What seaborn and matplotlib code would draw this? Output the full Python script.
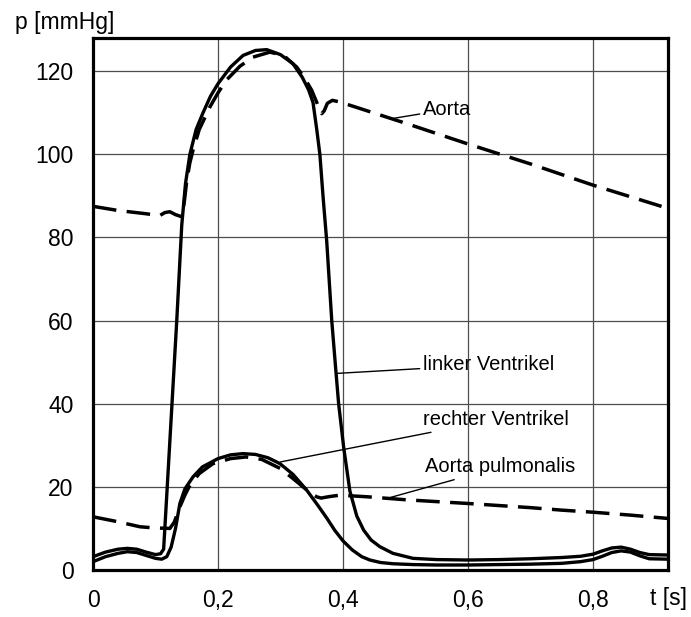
import pandas as pd
import seaborn as sns
import matplotlib
matplotlib.use("Agg")
import matplotlib.pyplot as plt
from matplotlib.ticker import FixedLocator

# Pressure curves (t in s, p in mmHg)
t_lv = [0, 0.02, 0.04, 0.055, 0.07, 0.085, 0.1, 0.108, 0.113, 0.118, 0.126, 0.134,
        0.142, 0.148, 0.155, 0.165, 0.176, 0.188, 0.2, 0.22, 0.24, 0.26, 0.278, 0.3,
        0.32, 0.335, 0.345, 0.352, 0.358, 0.363, 0.368, 0.374, 0.382, 0.388, 0.393,
        0.401, 0.411, 0.422, 0.433, 0.445, 0.459, 0.48, 0.512, 0.55, 0.6, 0.65, 0.7,
        0.75, 0.78, 0.8, 0.815, 0.83, 0.845, 0.86, 0.875, 0.89, 0.92]
p_lv = [3.2, 4.3, 5.0, 5.2, 5.0, 4.3, 3.7, 3.9, 5.0, 18, 39, 60,
        83, 93, 100, 106, 110, 114, 117, 121, 123.8, 125, 125.2, 124,
        121.8, 118.5, 115.5, 112.5, 106, 100, 90, 79, 60, 49, 40,
        29.6, 19, 13, 9.6, 7.2, 5.6, 4.0, 2.8, 2.5, 2.4, 2.5, 2.7,
        3.0, 3.3, 3.8, 4.6, 5.3, 5.5, 5.0, 4.2, 3.7, 3.6]

t_rv = [0, 0.02, 0.04, 0.055, 0.07, 0.085, 0.1, 0.11, 0.118, 0.125, 0.132, 0.139,
        0.147, 0.16, 0.175, 0.2, 0.22, 0.24, 0.26, 0.28, 0.299, 0.32, 0.342, 0.36,
        0.374, 0.387, 0.4, 0.415, 0.43, 0.443, 0.46, 0.48, 0.512, 0.55, 0.6, 0.65,
        0.7, 0.75, 0.78, 0.8, 0.815, 0.83, 0.845, 0.86, 0.875, 0.89, 0.92]
p_rv = [2.0, 3.2, 4.0, 4.4, 4.2, 3.5, 2.8, 2.6, 3.2, 5.5, 10, 16,
        19.5, 22.4, 24.8, 26.8, 27.7, 28, 27.8, 27, 25.6, 23, 19.2, 15.5,
        12.5, 9.5, 7.0, 4.8, 3.2, 2.4, 1.8, 1.5, 1.3, 1.2, 1.2, 1.3,
        1.4, 1.6, 2.0, 2.5, 3.3, 4.2, 4.6, 4.3, 3.4, 2.7, 2.6]

t_ao = [0, 0.04, 0.08, 0.107, 0.115, 0.123, 0.132, 0.142, 0.146, 0.15, 0.155, 0.16,
        0.17, 0.187, 0.2, 0.213, 0.235, 0.256, 0.283, 0.305, 0.326, 0.34, 0.35,
        0.358, 0.363, 0.366, 0.37, 0.375, 0.383, 0.395, 0.5, 0.6, 0.7, 0.8, 0.92]
p_ao = [87.5, 86.5, 85.8, 85.3, 86.0, 86.2, 85.5, 85.0, 88.5, 93.7, 98, 101,
        106, 111.4, 114.8, 117.8, 121.2, 123.4, 124.6, 123.8, 121, 118, 115.4,
        112.5, 110.6, 109.8, 110.5, 112.3, 113, 112.6, 107.5, 102.5, 97.7, 92.6, 87]

t_pa = [0, 0.04, 0.075, 0.1, 0.123, 0.13, 0.139, 0.147, 0.155, 0.17, 0.192, 0.22,
        0.245, 0.27, 0.3, 0.32, 0.336, 0.35, 0.358, 0.365, 0.372, 0.38, 0.395,
        0.44, 0.5, 0.6, 0.7, 0.75, 0.8, 0.86, 0.92]
p_pa = [12.8, 11.6, 10.4, 10.1, 10.0, 11.5, 15.2, 18, 20.4, 23.2, 25.6, 26.8,
        27.2, 26.6, 24.4, 22.0, 20.0, 18.3, 17.6, 17.3, 17.5, 17.7, 18.0,
        17.6, 16.9, 16.0, 15.0, 14.4, 13.9, 13.2, 12.4]

x_ticks = [0, 0.2, 0.4, 0.6, 0.8]
x_labels = ["0", "0,2", "0,4", "0,6", "0,8"]
y_ticks = [0, 20, 40, 60, 80, 100, 120]

sns.set_style("white")
plt.rcParams['font.family'] = ['Liberation Sans', 'DejaVu Sans']
plt.rcParams['text.color'] = 'black'
plt.rcParams['xtick.color'] = 'black'
plt.rcParams['ytick.color'] = 'black'

fig = plt.figure(figsize=(6.91, 6.17), dpi=100)
ax = fig.add_axes([0.1346, 0.0762, 0.8321, 0.8622])

dash = (0, (6.8, 3.0))
sns.lineplot(x=t_lv, y=p_lv, ax=ax, color="black", lw=2.4)
sns.lineplot(x=t_rv, y=p_rv, ax=ax, color="black", lw=2.4)
sns.lineplot(x=t_ao, y=p_ao, ax=ax, color="black", lw=2.5, linestyle=dash)
sns.lineplot(x=t_pa, y=p_pa, ax=ax, color="black", lw=2.5, linestyle=dash)

ax.set_xlim(0, 0.92)
ax.set_ylim(0, 128)
ax.xaxis.set_major_locator(FixedLocator(x_ticks))
ax.set_xticklabels(x_labels)
ax.xaxis.set_minor_locator(FixedLocator([0.1, 0.3, 0.5, 0.7, 0.9]))
ax.yaxis.set_major_locator(FixedLocator(y_ticks))
ax.yaxis.set_minor_locator(FixedLocator([10, 30, 50, 70, 90, 110]))
ax.tick_params(axis="both", which="both", direction="out", color="black",
               labelcolor="black", labelsize=16.5, width=1)
ax.tick_params(axis="y", which="major", length=10, pad=4)
ax.tick_params(axis="y", which="minor", length=5.5)
ax.tick_params(axis="x", which="major", length=6, pad=8)
ax.tick_params(axis="x", which="minor", length=5)
ax.grid(True, which="major", color="0.3", lw=0.9)
ax.set_axisbelow(True)
for s in ax.spines.values():
    s.set_visible(True)
    s.set_color("black")
    s.set_linewidth(2.3)
ax.set_xlabel("")
ax.set_ylabel("")

fig.text(15 / 691, 1 - 22 / 617, "p [mmHg]", fontsize=16.5, ha="left", va="center",
         color="black")
fig.text(687 / 691, 1 - 598 / 617, "t [s]", fontsize=16.5, ha="right", va="center",
         color="black")

arrow = dict(arrowstyle="-", color="black", lw=1, shrinkA=0, shrinkB=0)
ax.annotate("Aorta", xy=(0.478, 108.6), xytext=(0.528, 110.8), fontsize=14.5,
            ha="left", va="center", color="black", arrowprops=arrow)
ax.annotate("linker Ventrikel", xy=(0.39, 47.3), xytext=(0.528, 49.4), fontsize=14.5,
            ha="left", va="center", color="black", arrowprops=arrow)
ax.annotate("rechter Ventrikel", xy=(0.3, 26), xytext=(0.528, 36.2), fontsize=14.5,
            ha="left", va="center", color="black", arrowprops=arrow)
ax.annotate("Aorta pulmonalis", xy=(0.47, 17.2), xytext=(0.531, 24.8), fontsize=14.5,
            ha="left", va="center", color="black", arrowprops=arrow)

fig.savefig("out.png", dpi=100)
